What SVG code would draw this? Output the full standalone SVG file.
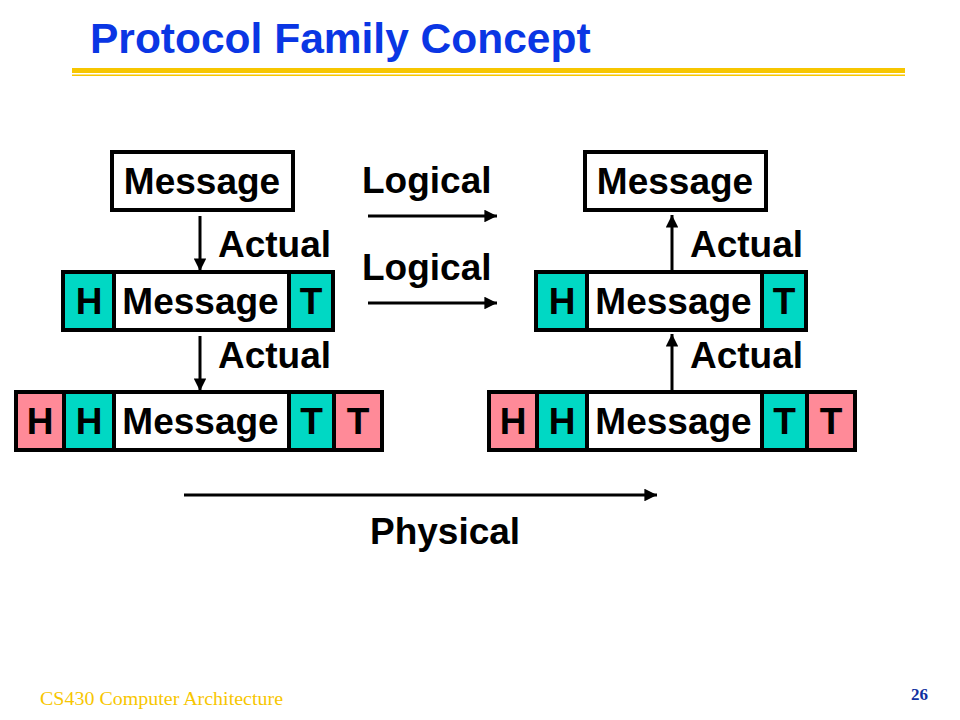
<svg xmlns="http://www.w3.org/2000/svg" width="960" height="720" viewBox="0 0 960 720">
<style>
  .lbl { font-family: "Liberation Sans", Arial, sans-serif; font-weight: bold; font-size: 37px; fill: #000; }
  .mid { text-anchor: middle; }
  .box { stroke: #000; stroke-width: 4; }
  .msg { fill: #fff; }
  .teal { fill: #00D8C4; }
  .pink { fill: #FF8A98; }
  .div { stroke: #000; stroke-width: 4; }
  .conn { stroke: #000; stroke-width: 3; fill: none; marker-end: url(#ah); }
</style>
<defs>
  <marker id="ah" viewBox="0 0 10 10" refX="10" refY="5" markerWidth="4.8" markerHeight="4.2" orient="auto" markerUnits="strokeWidth">
    <path d="M0,0 L10,5 L0,10 Z" fill="#000"/>
  </marker>
</defs>
<rect width="960" height="720" fill="#fff"/>

<g id="title">
  <text x="90" y="53" font-family="'Liberation Sans', Arial, sans-serif" font-weight="bold" font-size="42.5" fill="#0A36E4">Protocol Family Concept</text>
  <rect x="72" y="68" width="833" height="5" fill="#F7C600"/>
  <rect x="72" y="74.5" width="833" height="1.5" fill="#F7C600"/>
</g>

<!-- Left stack -->
<g id="left-message">
  <rect class="box msg" x="112" y="152" width="181" height="58"/>
  <text class="lbl mid" x="202" y="194">Message</text>
</g>
<g id="left-layer2">
  <rect class="box msg" x="63" y="272" width="270" height="58"/>
  <rect class="teal" x="65" y="274" width="49" height="54"/>
  <rect class="teal" x="289" y="274" width="42" height="54"/>
  <line class="div" x1="114" y1="272" x2="114" y2="330"/>
  <line class="div" x1="289" y1="272" x2="289" y2="330"/>
  <text class="lbl mid" x="89" y="314">H</text>
  <text class="lbl mid" x="200.5" y="314">Message</text>
  <text class="lbl mid" x="311" y="314">T</text>
</g>
<g id="left-layer1">
  <rect class="box msg" x="16" y="392" width="366" height="58"/>
  <rect class="pink" x="18" y="394" width="46" height="54"/>
  <rect class="teal" x="64" y="394" width="50" height="54"/>
  <rect class="teal" x="289" y="394" width="45" height="54"/>
  <rect class="pink" x="334" y="394" width="46" height="54"/>
  <line class="div" x1="64" y1="392" x2="64" y2="450"/>
  <line class="div" x1="114" y1="392" x2="114" y2="450"/>
  <line class="div" x1="289" y1="392" x2="289" y2="450"/>
  <line class="div" x1="334" y1="392" x2="334" y2="450"/>
  <text class="lbl mid" x="40" y="434">H</text>
  <text class="lbl mid" x="89" y="434">H</text>
  <text class="lbl mid" x="200.5" y="434">Message</text>
  <text class="lbl mid" x="311.5" y="434">T</text>
  <text class="lbl mid" x="358" y="434">T</text>
</g>

<!-- Right stack -->
<g id="right-message">
  <rect class="box msg" x="585" y="152" width="181" height="58"/>
  <text class="lbl mid" x="675" y="194">Message</text>
</g>
<g id="right-layer2">
  <rect class="box msg" x="536" y="272" width="270" height="58"/>
  <rect class="teal" x="538" y="274" width="49" height="54"/>
  <rect class="teal" x="762" y="274" width="42" height="54"/>
  <line class="div" x1="587" y1="272" x2="587" y2="330"/>
  <line class="div" x1="762" y1="272" x2="762" y2="330"/>
  <text class="lbl mid" x="562" y="314">H</text>
  <text class="lbl mid" x="673.5" y="314">Message</text>
  <text class="lbl mid" x="784" y="314">T</text>
</g>
<g id="right-layer1">
  <rect class="box msg" x="489" y="392" width="366" height="58"/>
  <rect class="pink" x="491" y="394" width="46" height="54"/>
  <rect class="teal" x="537" y="394" width="50" height="54"/>
  <rect class="teal" x="762" y="394" width="45" height="54"/>
  <rect class="pink" x="807" y="394" width="46" height="54"/>
  <line class="div" x1="537" y1="392" x2="537" y2="450"/>
  <line class="div" x1="587" y1="392" x2="587" y2="450"/>
  <line class="div" x1="762" y1="392" x2="762" y2="450"/>
  <line class="div" x1="807" y1="392" x2="807" y2="450"/>
  <text class="lbl mid" x="513" y="434">H</text>
  <text class="lbl mid" x="562" y="434">H</text>
  <text class="lbl mid" x="673.5" y="434">Message</text>
  <text class="lbl mid" x="784.5" y="434">T</text>
  <text class="lbl mid" x="831" y="434">T</text>
</g>

<g id="connectors">
  <line class="conn" x1="200" y1="216" x2="200" y2="271"/>
  <line class="conn" x1="200" y1="336" x2="200" y2="391"/>
  <line class="conn" x1="672" y1="270" x2="672" y2="215"/>
  <line class="conn" x1="672" y1="390" x2="672" y2="334"/>
  <line class="conn" x1="368" y1="216" x2="497" y2="216"/>
  <line class="conn" x1="368" y1="303" x2="497" y2="303"/>
  <line class="conn" x1="184" y1="495" x2="657" y2="495"/>
</g>

<g id="labels">
  <text class="lbl" x="218" y="257">Actual</text>
  <text class="lbl" x="218" y="368">Actual</text>
  <text class="lbl" x="690" y="257">Actual</text>
  <text class="lbl" x="690" y="368">Actual</text>
  <text class="lbl" x="362" y="193">Logical</text>
  <text class="lbl" x="362" y="280">Logical</text>
  <text class="lbl" x="370" y="544">Physical</text>
</g>

<g id="footer">
  <text x="40" y="705" font-family="'Liberation Serif', 'Times New Roman', serif" font-size="18" fill="#F7C600" textLength="243" lengthAdjust="spacingAndGlyphs">CS430 Computer Architecture</text>
  <text x="911" y="700" font-family="'Liberation Serif', 'Times New Roman', serif" font-weight="bold" font-size="17" fill="#1030A0">26</text>
</g>
</svg>
